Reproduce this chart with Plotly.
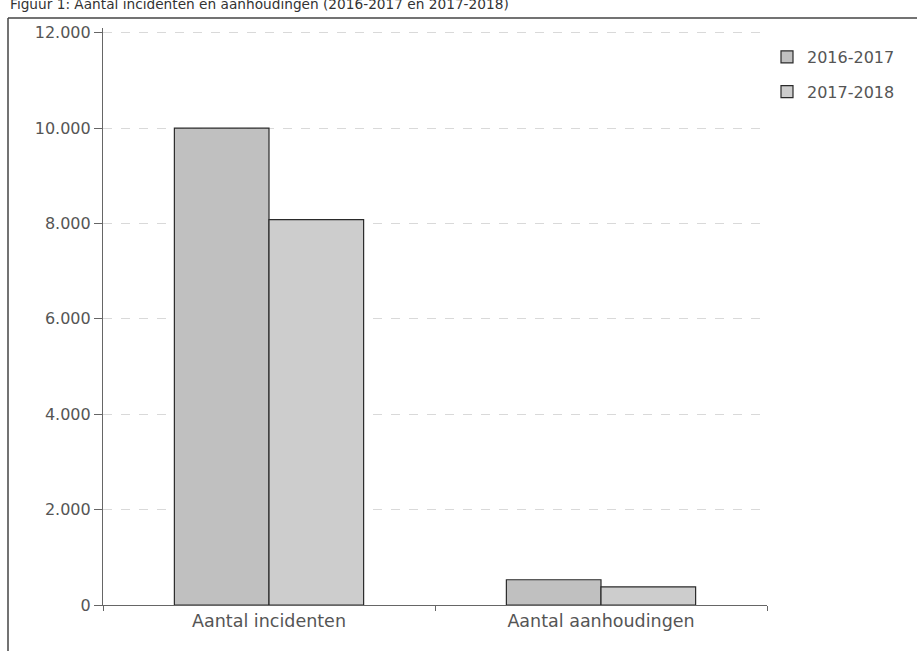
import plotly.graph_objects as go

categories = ["Aantal incidenten", "Aantal aanhoudingen"]
series_names = ["2016-2017", "2017-2018"]
values_2016_2017 = [10000, 530]
values_2017_2018 = [8080, 380]
tick_vals = [0, 2000, 4000, 6000, 8000, 10000, 12000]
tick_text = ["0", "2.000", "4.000", "6.000", "8.000", "10.000", "12.000"]
title_text = "Figuur 1: Aantal incidenten en aanhoudingen (2016-2017 en 2017-2018)"

FONT = "DejaVu Sans, Verdana, sans-serif"
TXT = "#555555"

fig = go.Figure()
fig.add_trace(go.Bar(x=categories, y=values_2016_2017, name=series_names[0], legendgroup="a",
                     marker=dict(color="#c0c0c0", line=dict(color="#2a2a2a", width=1.2))))
fig.add_trace(go.Bar(x=categories, y=values_2017_2018, name=series_names[1], legendgroup="b",
                     marker=dict(color="#cdcdcd", line=dict(color="#2a2a2a", width=1.2))))

W, H = 917, 651
ml, mr, mt, mb = 103, 150, 28, 46
pw = W - ml - mr
ph = H - mt - mb


def px(x):
    return (x - ml) / pw


def py(y):
    return (H - mb - y) / ph


fig.update_layout(
    width=W, height=H,
    margin=dict(l=ml, r=mr, t=mt, b=mb, autoexpand=False),
    paper_bgcolor="white", plot_bgcolor="white",
    barmode="group", bargap=0.43, bargroupgap=0,
    font=dict(family=FONT, size=16, color=TXT),
    legend=dict(x=px(767), y=py(40), xanchor="left", yanchor="top",
                font=dict(family=FONT, size=16, color=TXT), tracegroupgap=11,
                itemwidth=30, bgcolor="rgba(0,0,0,0)"),
    xaxis=dict(showline=True, linecolor="#666666", linewidth=1.2,
               ticks="outside", tickson="boundaries", ticklen=5, tickcolor="#666666",
               showgrid=False, tickfont=dict(family=FONT, size=17.5, color=TXT)),
    yaxis=dict(range=[0, 12100], tickvals=tick_vals, ticktext=tick_text,
               showline=True, linecolor="#666666", linewidth=1.2,
               ticks="outside", ticklen=8, tickcolor="#666666",
               showgrid=True, gridcolor="#d9d9d9", griddash="dash", gridwidth=1,
               zeroline=False, tickfont=dict(family=FONT, size=16, color=TXT)),
    showlegend=True,
)

# scan frame: left vertical and top horizontal line
fig.add_shape(type="line", xref="paper", yref="paper",
              x0=px(8), x1=px(8), y0=py(651), y1=py(18),
              line=dict(color="#444444", width=1.5))
fig.add_shape(type="line", xref="paper", yref="paper",
              x0=px(8), x1=px(917), y0=py(18), y1=py(18),
              line=dict(color="#444444", width=1.5))

# partially visible title at the very top (cut off like the scan)
fig.add_annotation(text=title_text, xref="paper", yref="paper",
                   x=px(8), y=py(14), xanchor="left", yanchor="bottom",
                   showarrow=False, font=dict(family=FONT, size=13.7, color="#333333"))

fig.write_html("out.html", config={"displayModeBar": False},
               post_script="document.body.style.margin='0';")
